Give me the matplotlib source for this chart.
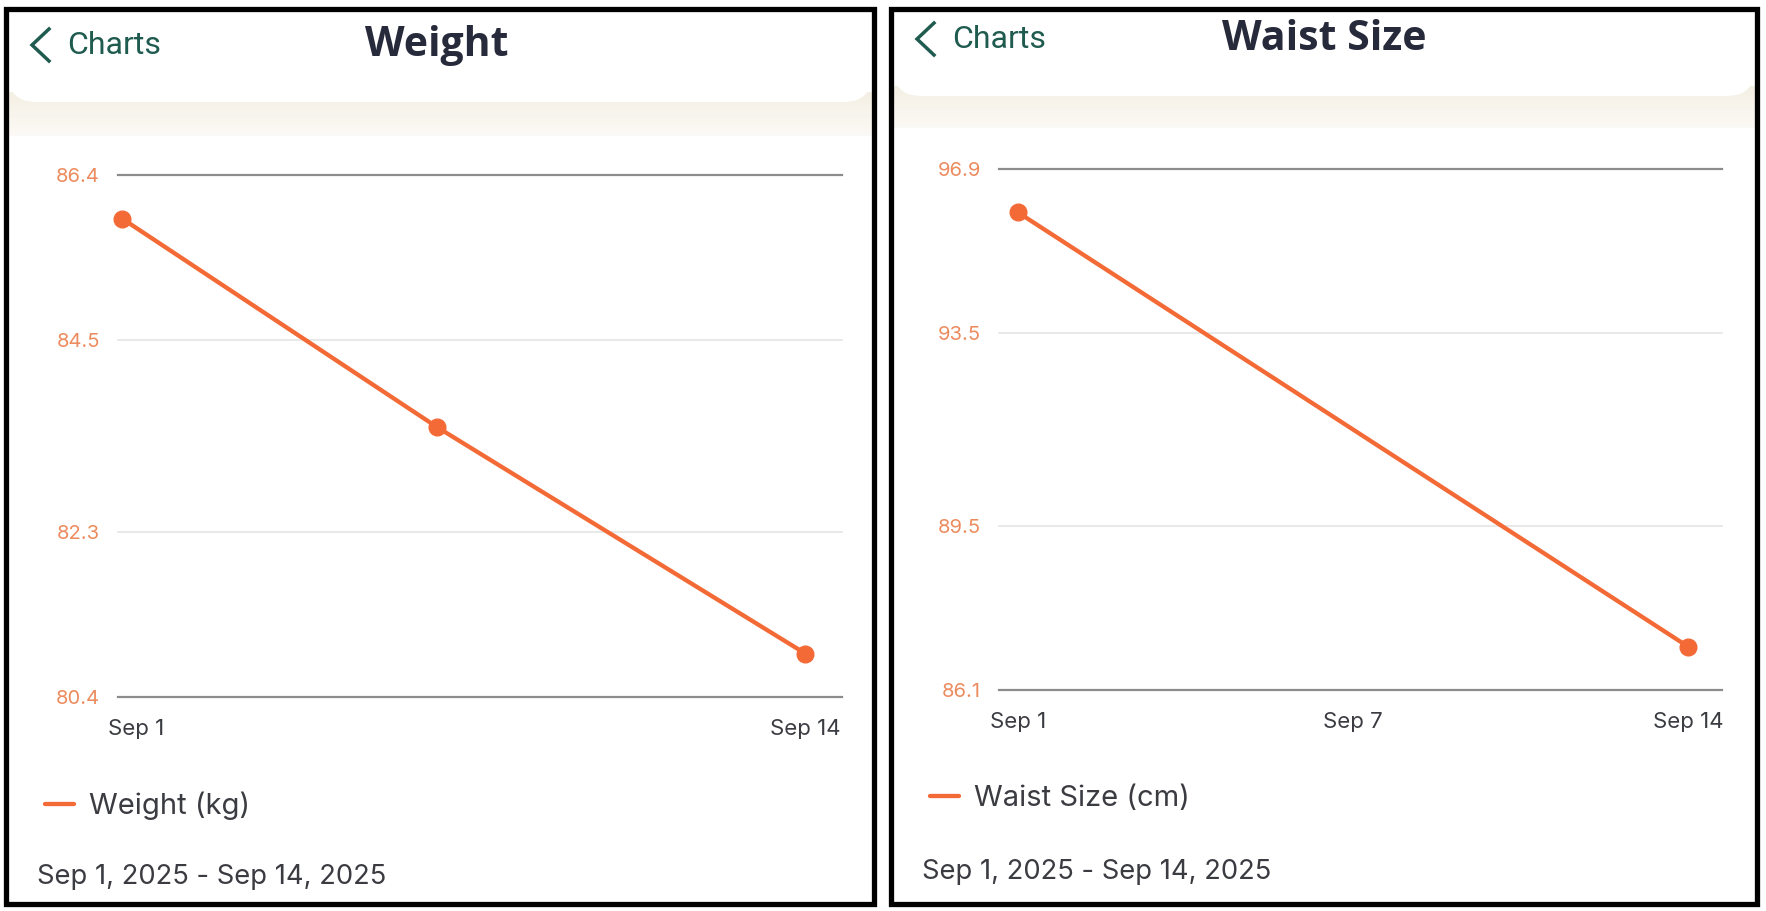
import matplotlib
matplotlib.use("Agg")
import matplotlib.pyplot as plt
from matplotlib.patches import Rectangle, FancyBboxPatch
from matplotlib.lines import Line2D
from matplotlib.transforms import ScaledTranslation

# ---------------- data ----------------
weight_days = [1, 7, 14]
weight_values = [85.9, 83.5, 80.9]
weight_yticks = [80.4, 82.3, 84.5, 86.4]
weight_xticks = [1, 14]
weight_xlabels = ["Sep 1", "Sep 14"]

waist_days = [1, 14]
waist_values = [96.0, 87.0]
waist_yticks = [86.1, 89.5, 93.5, 96.9]
waist_xticks = [1, 7.5, 14]
waist_xlabels = ["Sep 1", "Sep 7", "Sep 14"]

titles = ["Weight", "Waist Size"]
legend_labels = ["Weight (kg)", "Waist Size (cm)"]
date_range = "Sep 1, 2025 - Sep 14, 2025"
back_label = "Charts"

# ---------------- style ----------------
W, H = 1766, 911
DPI = 100
ORANGE = "#f36a36"
TICK_ORANGE = "#ec8b5e"
DARK = "#3b3c42"
TITLE = "#262a3a"
TEAL = "#1f5b4f"
GRID_DARK = "#8c8c8c"
GRID_LIGHT = "#e7e7e7"
FONT = ["Inter", "DejaVu Sans"]

fig = plt.figure(figsize=(W / DPI, H / DPI), dpi=DPI)
fig.patch.set_facecolor("white")


def fx(x):
    return x / W


def fy(y):
    return 1 - y / H


def panel(x0, x1, y0, y1, hdr_bottom, beige_bottom, cx_chev, cy_head, title_cx, title):
    # beige gradient band
    steps = 12
    for i in range(steps):
        t = i / steps
        ya = hdr_bottom - 10 + (beige_bottom - hdr_bottom + 10) * t
        yb = hdr_bottom - 10 + (beige_bottom - hdr_bottom + 10) * (t + 1 / steps)
        c0 = (0xf4 / 255, 0xef / 255, 0xe4 / 255)
        c1 = (0xfc / 255, 0xfa / 255, 0xf6 / 255)
        c = tuple(a + (b - a) * t for a, b in zip(c0, c1))
        fig.patches.append(Rectangle((fx(x0), fy(yb)), fx(x1 - x0), (yb - ya) / H,
                                     transform=fig.transFigure, facecolor=c,
                                     edgecolor="none", zorder=1))
    # white header with rounded bottom
    fig.patches.append(FancyBboxPatch((fx(x0 + 2), fy(hdr_bottom)), fx(x1 - x0 - 4),
                                      (hdr_bottom - y0 + 40) / H,
                                      boxstyle="round,pad=0,rounding_size=0.016",
                                      transform=fig.transFigure, facecolor="white",
                                      edgecolor="none", zorder=2,
                                      mutation_aspect=W / H))
    # border
    fig.patches.append(Rectangle((fx(x0), fy(y1)), fx(x1 - x0), (y1 - y0) / H,
                                 transform=fig.transFigure, facecolor="none",
                                 edgecolor="black", linewidth=3.8, zorder=10))
    # chevron
    fig.lines.append(Line2D([fx(cx_chev + 17), fx(cx_chev), fx(cx_chev + 17)],
                            [fy(cy_head - 16), fy(cy_head), fy(cy_head + 16)],
                            transform=fig.transFigure, color=TEAL, linewidth=2.5,
                            solid_joinstyle="miter", zorder=5))
    fig.text(fx(cx_chev + 35), fy(cy_head), back_label, color=TEAL, fontsize=23,
             family=["Roboto", "DejaVu Sans"], ha="left", va="center", zorder=5)
    fig.text(fx(title_cx), fy(cy_head), title, color=TITLE, fontsize=29.5,
             fontweight="bold", family=["Open Sans", "DejaVu Sans"],
             ha="center", va="center", zorder=5)


panel(6, 874, 9, 904, 102, 136, 32, 45, 437, titles[0])
panel(891, 1757, 9, 904, 96, 128, 917, 39, 1324, titles[1])


def chart(ax_px, xlim, days, values, yticks, xticks, xlabels, legend_label,
          legend_xy, date_xy, first_offset=0):
    x0, x1, y0, y1 = ax_px
    ax = fig.add_axes([fx(x0), fy(y1), fx(x1 - x0), (y1 - y0) / H])
    ax.set_facecolor("none")
    ax.set_xlim(*xlim)
    ax.set_ylim(min(yticks), max(yticks))
    for s in ax.spines.values():
        s.set_visible(False)
    for i, v in enumerate(yticks):
        edge = i == 0 or i == len(yticks) - 1
        ax.axhline(v, color=GRID_DARK if edge else GRID_LIGHT,
                   linewidth=1.6 if edge else 1.3, zorder=1, clip_on=False)
    ax.plot(days, values, color=ORANGE, linewidth=3.1, label=legend_label,
            zorder=3, clip_on=False, solid_capstyle="round")
    ax.plot(days, values, "o", color=ORANGE, markersize=12, zorder=4,
            clip_on=False)
    ax.set_yticks(yticks)
    ax.set_yticklabels([f"{v:.1f}" for v in yticks])
    ax.set_xticks(xticks)
    ax.set_xticklabels(xlabels)
    ax.tick_params(axis="y", length=0, pad=13, labelcolor=TICK_ORANGE,
                   labelsize=14.5)
    ax.tick_params(axis="x", length=0, pad=16, labelcolor=DARK, labelsize=16)
    for lab in ax.get_yticklabels() + ax.get_xticklabels():
        lab.set_family(FONT)
    if first_offset:
        lab = ax.get_xticklabels()[0]
        lab.set_transform(lab.get_transform() +
                          ScaledTranslation(first_offset / DPI, 0, fig.dpi_scale_trans))
    ax.legend(loc="center left", bbox_to_anchor=(fx(legend_xy[0]), fy(legend_xy[1])),
              bbox_transform=fig.transFigure, frameon=False, borderpad=0,
              borderaxespad=0, handlelength=1.0, handletextpad=0.5,
              prop={"family": FONT, "size": 21}, labelcolor=DARK)
    fig.text(fx(date_xy[0]), fy(date_xy[1]), date_range, color=DARK, fontsize=19.7,
             family=FONT, ha="left", va="center")
    return ax


chart((118, 842, 175, 697), (0.924, 14.70), weight_days, weight_values,
      weight_yticks, weight_xticks, weight_xlabels, legend_labels[0],
      (45, 806), (37, 877), first_offset=14)
chart((999, 1722, 169, 690), (0.631, 14.66), waist_days, waist_values,
      waist_yticks, waist_xticks, waist_xlabels, legend_labels[1],
      (930, 799), (922, 872))

fig.savefig("out.png", dpi=DPI, facecolor="white")
